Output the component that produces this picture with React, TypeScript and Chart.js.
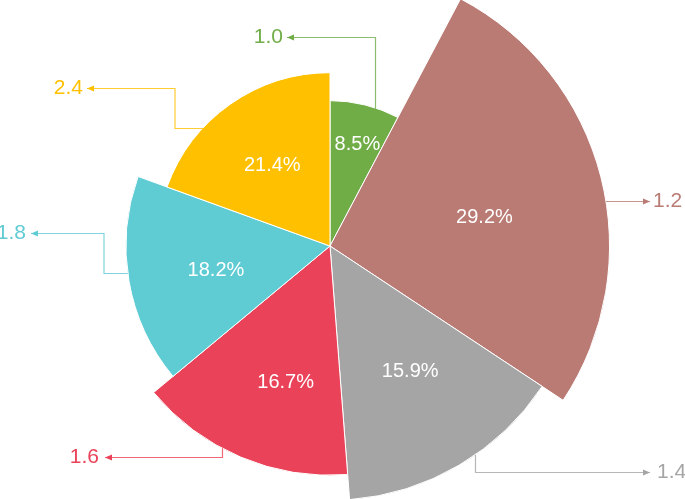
import React, { useEffect, useRef } from "react";
import { Chart, registerables } from "chart.js";

Chart.register(...registerables);

// ---- data ----
const categories = ["Item 1", "Item 2", "Item 3", "Item 4", "Item 5", "Item 6"];
const shareValues = [8.5, 29.2, 15.9, 16.7, 18.2, 21.4]; // slice angle + inner label (%)
const radiusValues = [52, 100, 91, 82, 73, 62]; // relative slice radius
const calloutValues = [1.0, 1.2, 1.4, 1.6, 1.8, 2.4]; // outer callout labels
const radiusMax = 88;

// ---- styles / layout ----
const sliceColors = ["#70AD47", "#BA7B74", "#A5A5A5", "#EA4259", "#5FCBD3", "#FFC000"];
const FONT = '"Liberation Sans", Arial, Helvetica, sans-serif';

const innerLabelPlacement = [
  { along: 0.54, depth: 0.726 },
  { along: 0.54, depth: 0.562 },
  { along: 0.46, depth: 0.586 },
  { along: 0.41, depth: 0.626 },
  { along: 0.46, depth: 0.572 },
  { along: 0.49, depth: 0.57 },
];

type Step = ["h" | "v", number];
const callouts: { along: number; inset: number; route: Step[]; gap: number }[] = [
  { along: 0.69, inset: 8, route: [["v", 37], ["h", 287]], gap: 4 },
  { along: 0.553, inset: 0, route: [["h", 650]], gap: 3 },
  { along: 0.417, inset: 0, route: [["v", 472], ["h", 650]], gap: 7 },
  { along: 0.594, inset: 0, route: [["v", 457], ["h", 105]], gap: 6 },
  { along: 0.537, inset: 0, route: [["h", 104], ["v", 233], ["h", 31]], gap: 5 },
  { along: 0.328, inset: 0, route: [["h", 175], ["v", 88], ["h", 87]], gap: 4 },
];

function withAlpha(hex: string, a: number) {
  const n = parseInt(hex.slice(1), 16);
  return `rgba(${(n >> 16) & 255},${(n >> 8) & 255},${n & 255},${a})`;
}

const sliceLabelPlugin = {
  id: "sliceLabels",
  afterDatasetsDraw(chart: any) {
    const { ctx } = chart;
    const meta = chart.getDatasetMeta(0);
    meta.data.forEach((el: any, i: number) => {
      const { x, y, startAngle, endAngle, outerRadius } = el.getProps(
        ["x", "y", "startAngle", "endAngle", "outerRadius"],
        true
      );
      const span = endAngle - startAngle;
      const color = sliceColors[i];
      ctx.save();

      // inner percentage label
      const p = innerLabelPlacement[i];
      const a = startAngle + span * p.along;
      const r = outerRadius * p.depth;
      ctx.font = `20px ${FONT}`;
      ctx.fillStyle = "#ffffff";
      ctx.textAlign = "center";
      ctx.textBaseline = "middle";
      ctx.fillText(`${shareValues[i].toFixed(1)}%`, x + Math.cos(a) * r, y + Math.sin(a) * r);

      // callout line
      const c = callouts[i];
      const ca = startAngle + span * c.along;
      const cr = outerRadius - c.inset;
      let px = x + Math.cos(ca) * cr;
      let py = y + Math.sin(ca) * cr;
      if (c.route[0][0] === "v") px = Math.round(px) + 0.5;
      else py = Math.round(py) + 0.5;
      const lineColor = withAlpha(color, 0.8);
      ctx.strokeStyle = lineColor;
      ctx.lineWidth = 1.2;
      ctx.beginPath();
      ctx.moveTo(px, py);
      let dir = 1;
      for (const [axis, v] of c.route) {
        if (axis === "h") {
          const nx = v;
          dir = Math.sign(nx - px) || 1;
          px = nx;
        } else {
          py = v + 0.5;
        }
        ctx.lineTo(px, py);
      }
      ctx.stroke();

      // arrow head
      ctx.fillStyle = color;
      ctx.beginPath();
      ctx.moveTo(px, py);
      ctx.lineTo(px - dir * 7, py - 3);
      ctx.lineTo(px - dir * 7, py + 3);
      ctx.closePath();
      ctx.fill();

      // callout text
      ctx.font = `21px ${FONT}`;
      ctx.fillStyle = color;
      ctx.textAlign = dir < 0 ? "right" : "left";
      ctx.textBaseline = "middle";
      ctx.fillText(calloutValues[i].toFixed(1), px + dir * c.gap, py);
      ctx.restore();
    });
  },
};

export default function App() {
  const canvasRef = useRef<HTMLCanvasElement | null>(null);

  useEffect(() => {
    if (!canvasRef.current) return;
    const total = shareValues.reduce((s, v) => s + v, 0);
    const chart = new Chart(canvasRef.current, {
      type: "polarArea",
      data: {
        labels: categories,
        datasets: [
          {
            data: radiusValues,
            backgroundColor: sliceColors,
            borderColor: "#ffffff",
            borderWidth: 1,
            clip: false,
            angle: (ctx: any) => (shareValues[ctx.dataIndex] / total) * 360,
          } as any,
        ],
      },
      options: {
        responsive: false,
        animation: false,
        layout: { padding: { left: 0, right: 25, top: 0, bottom: 7 } },
        scales: {
          r: { display: false, min: 0, max: radiusMax },
        },
        plugins: {
          legend: { display: false },
          tooltip: { enabled: false },
        },
      },
      plugins: [sliceLabelPlugin],
    });
    return () => chart.destroy();
  }, []);

  return (
    <div style={{ position: "fixed", left: 0, top: 0, width: 685, height: 499, background: "#fff" }}>
      <canvas ref={canvasRef} width={685} height={499} style={{ display: "block" }} />
    </div>
  );
}
